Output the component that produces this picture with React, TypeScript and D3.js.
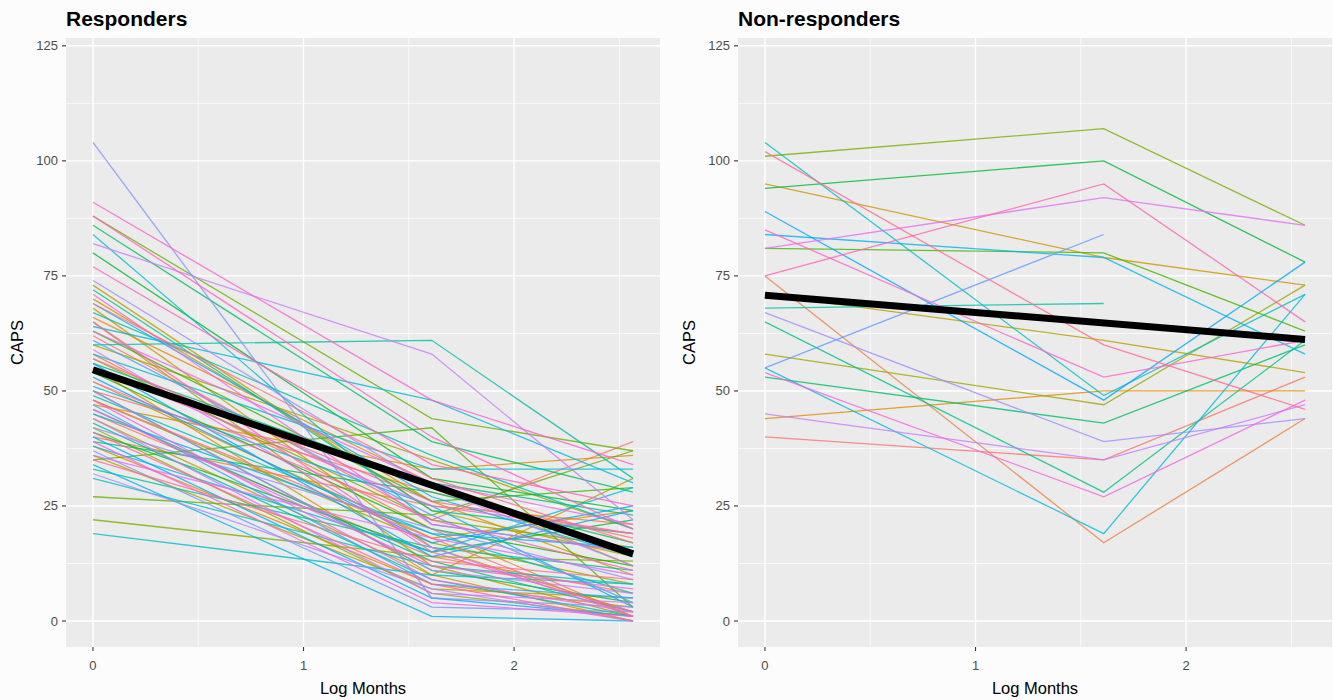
import React, { useEffect, useRef } from 'react';
import * as d3 from 'd3';

// log(months + 1) at baseline, 4 months and 12 months
const logMonths = [0, 1.609, 2.565];

// responders: CAPS at each time point, ordered by colour of subject
const responders: number[][] = [
  [62, 22, 39], [50, 28, 18], [45, 14, 6], [58, 20, 1], [40, 25, 21],
  [66, 30, 12], [38, 8, 3], [52, 18, 24], [47, 33, 36], [55, 10, 0],
  [70, 26, 10], [68, 16, 2], [44, 10, 31], [73, 24, 14], [65, 12, 1],
  [36, 7, 5], [60, 35, 20], [48, 17, 8], [42, 6, 1], [57, 22, 16],
  [22, 14, 13], [88, 44, 37], [27, 23, 37], [35, 42, 3], [63, 26, 29],
  [54, 20, 12], [80, 31, 24], [41, 15, 22], [50, 11, 4], [39, 28, 17],
  [86, 39, 28], [56, 30, 23], [46, 13, 2], [72, 24, 19], [33, 16, 11],
  [43, 9, 1], [60, 61, 31], [67, 36, 20], [49, 19, 6], [31, 12, 8],
  [19, 10, 8], [84, 21, 15], [58, 33, 33], [64, 48, 30], [38, 15, 29],
  [51, 25, 3], [34, 1, 0], [45, 19, 16], [69, 27, 14], [40, 5, 1],
  [56, 14, 24], [53, 17, 25], [47, 8, 5], [61, 23, 4], [37, 3, 2],
  [104, 5, 3], [42, 20, 9], [74, 29, 12], [32, 7, 0], [50, 11, 6],
  [82, 58, 22], [44, 6, 4], [59, 16, 1], [36, 18, 10], [63, 30, 21],
  [48, 9, 2], [71, 21, 15], [39, 4, 1], [55, 25, 19], [46, 12, 7],
  [91, 48, 34], [88, 40, 20], [77, 34, 25], [52, 22, 11], [65, 15, 2],
  [41, 8, 0], [57, 26, 19], [35, 13, 9], [69, 31, 17], [48, 18, 1],
];

// non-responders (two subjects missing the 12 month visit)
const nonResponders: number[][] = [
  [40, 35, 53], [75, 17, 44], [44, 50, 50], [95, 79, 73], [71, 61, 54],
  [58, 47, 73], [101, 107, 86], [81, 80, 63], [94, 100, 78], [53, 43, 60],
  [65, 28, 61], [68, 69], [104, 49, 71], [55, 19, 71], [84, 79, 58],
  [89, 48, 78], [55, 84], [67, 39, 44], [45, 35, 47], [81, 92, 86],
  [54, 27, 48], [85, 53, 61], [75, 95, 65], [102, 60, 46],
];

// fitted mean line, value at first and last time point
const respondersFit = [54.6, 14.6];
const nonRespondersFit = [70.8, 61.2];

const yTicks = [0, 25, 50, 75, 100, 125];
const yMinor = [12.5, 37.5, 62.5, 87.5, 112.5];
const xTicks = [0, 1, 2];
const xMinor = [0.5, 1.5, 2.5];

// ggplot2 hue palette: polarLUV(l = 65, c = 100)
function hueColor(h: number) {
  const L = 65, C = 100;
  const u = C * Math.cos((h * Math.PI) / 180);
  const v = C * Math.sin((h * Math.PI) / 180);
  const Xn = 95.047, Yn = 100, Zn = 108.883;
  const un = (4 * Xn) / (Xn + 15 * Yn + 3 * Zn);
  const vn = (9 * Yn) / (Xn + 15 * Yn + 3 * Zn);
  const Y = Yn * Math.pow((L + 16) / 116, 3);
  const up = u / (13 * L) + un;
  const vp = v / (13 * L) + vn;
  const X = (Y * 9 * up) / (4 * vp);
  const Z = (Y * (12 - 3 * up - 20 * vp)) / (4 * vp);
  const x = X / 100, y = Y / 100, z = Z / 100;
  const lin = [
    3.2404542 * x - 1.5371385 * y - 0.4985314 * z,
    -0.969266 * x + 1.8760108 * y + 0.041556 * z,
    0.0556434 * x - 0.2040259 * y + 1.0572252 * z,
  ];
  const gam = lin.map((c) => {
    const g = c <= 0.0031308 ? 12.92 * c : 1.055 * Math.pow(c, 1 / 2.4) - 0.055;
    return Math.round(Math.max(0, Math.min(1, g)) * 255);
  });
  return `rgb(${gam[0]},${gam[1]},${gam[2]})`;
}

function huePalette(n: number) {
  return d3.range(n).map((i) => hueColor(15 + (360 * i) / n));
}

function drawPanel(svg, opts) {
  const { left, right, title, series, fit } = opts;
  const top = 38;
  const bottom = 647;

  const x = d3.scaleLinear().domain([-0.128, 2.693]).range([left, right]);
  const y = d3.scaleLinear().domain([-5.65, 126.7]).range([bottom, top]);

  const g = svg.append('g');
  g.append('rect')
    .attr('x', left)
    .attr('y', top)
    .attr('width', right - left)
    .attr('height', bottom - top)
    .attr('fill', '#ebebeb');

  // grid
  g.selectAll('.ymin')
    .data(yMinor)
    .enter()
    .append('line')
    .attr('x1', left)
    .attr('x2', right)
    .attr('y1', (d) => y(d))
    .attr('y2', (d) => y(d))
    .attr('stroke', '#fff')
    .attr('stroke-width', 0.7);
  g.selectAll('.xmin')
    .data(xMinor)
    .enter()
    .append('line')
    .attr('y1', top)
    .attr('y2', bottom)
    .attr('x1', (d) => x(d))
    .attr('x2', (d) => x(d))
    .attr('stroke', '#fff')
    .attr('stroke-width', 0.7);
  g.selectAll('.ymaj')
    .data(yTicks)
    .enter()
    .append('line')
    .attr('x1', left)
    .attr('x2', right)
    .attr('y1', (d) => y(d))
    .attr('y2', (d) => y(d))
    .attr('stroke', '#fff')
    .attr('stroke-width', 1.4);
  g.selectAll('.xmaj')
    .data(xTicks)
    .enter()
    .append('line')
    .attr('y1', top)
    .attr('y2', bottom)
    .attr('x1', (d) => x(d))
    .attr('x2', (d) => x(d))
    .attr('stroke', '#fff')
    .attr('stroke-width', 1.4);

  // subject lines
  const colors = huePalette(series.length);
  const line = d3
    .line<number>()
    .x((d, i) => x(logMonths[i]))
    .y((d) => y(d));
  g.selectAll('.subj')
    .data(series)
    .enter()
    .append('path')
    .attr('d', (d) => line(d))
    .attr('fill', 'none')
    .attr('stroke', (d, i) => colors[i])
    .attr('stroke-opacity', 0.8)
    .attr('stroke-width', 1.3);

  // mean trend
  const fitLine = d3
    .line<number>()
    .x((d, i) => x(i === 0 ? logMonths[0] : logMonths[2]))
    .y((d) => y(d));
  g.append('path')
    .attr('d', fitLine(fit))
    .attr('fill', 'none')
    .attr('stroke', '#000')
    .attr('stroke-width', 7);

  // axes
  const tickColor = '#333';
  const labColor = '#4d4d4d';
  g.selectAll('.yt')
    .data(yTicks)
    .enter()
    .append('line')
    .attr('x1', left - 4)
    .attr('x2', left)
    .attr('y1', (d) => y(d))
    .attr('y2', (d) => y(d))
    .attr('stroke', tickColor)
    .attr('stroke-width', 1.1);
  g.selectAll('.ytl')
    .data(yTicks)
    .enter()
    .append('text')
    .attr('x', left - 8)
    .attr('y', (d) => y(d) + 4.5)
    .attr('text-anchor', 'end')
    .attr('font-size', 13)
    .attr('fill', labColor)
    .text((d) => d);
  g.selectAll('.xt')
    .data(xTicks)
    .enter()
    .append('line')
    .attr('y1', bottom)
    .attr('y2', bottom + 4)
    .attr('x1', (d) => x(d))
    .attr('x2', (d) => x(d))
    .attr('stroke', tickColor)
    .attr('stroke-width', 1.1);
  g.selectAll('.xtl')
    .data(xTicks)
    .enter()
    .append('text')
    .attr('x', (d) => x(d))
    .attr('y', bottom + 23)
    .attr('text-anchor', 'middle')
    .attr('font-size', 13)
    .attr('fill', labColor)
    .text((d) => d);

  g.append('text')
    .attr('x', (left + right) / 2)
    .attr('y', 694)
    .attr('text-anchor', 'middle')
    .attr('font-size', 16.5)
    .attr('fill', '#000')
    .text('Log Months');
  g.append('text')
    .attr('transform', `translate(${left - 43},${(top + bottom) / 2}) rotate(-90)`)
    .attr('text-anchor', 'middle')
    .attr('font-size', 16.5)
    .attr('fill', '#000')
    .text('CAPS');
  g.append('text')
    .attr('x', left)
    .attr('y', 26)
    .attr('font-size', 21)
    .attr('font-weight', 'bold')
    .attr('fill', '#000')
    .text(title);
}

export default function App() {
  const ref = useRef<SVGSVGElement>(null);

  useEffect(() => {
    if (!ref.current) return;
    const svg = d3.select(ref.current);
    svg.selectAll('*').remove();
    svg
      .append('rect')
      .attr('width', 1333)
      .attr('height', 700)
      .attr('fill', '#fcfcfd');
    drawPanel(svg, {
      left: 66,
      right: 660,
      title: 'Responders',
      series: responders,
      fit: respondersFit,
    });
    drawPanel(svg, {
      left: 738,
      right: 1332,
      title: 'Non-responders',
      series: nonResponders,
      fit: nonRespondersFit,
    });
  }, []);

  return (
    <svg
      ref={ref}
      width={1333}
      height={700}
      style={{
        position: 'absolute',
        left: 0,
        top: 0,
        fontFamily: '"Liberation Sans", Arial, sans-serif',
      }}
    />
  );
}
